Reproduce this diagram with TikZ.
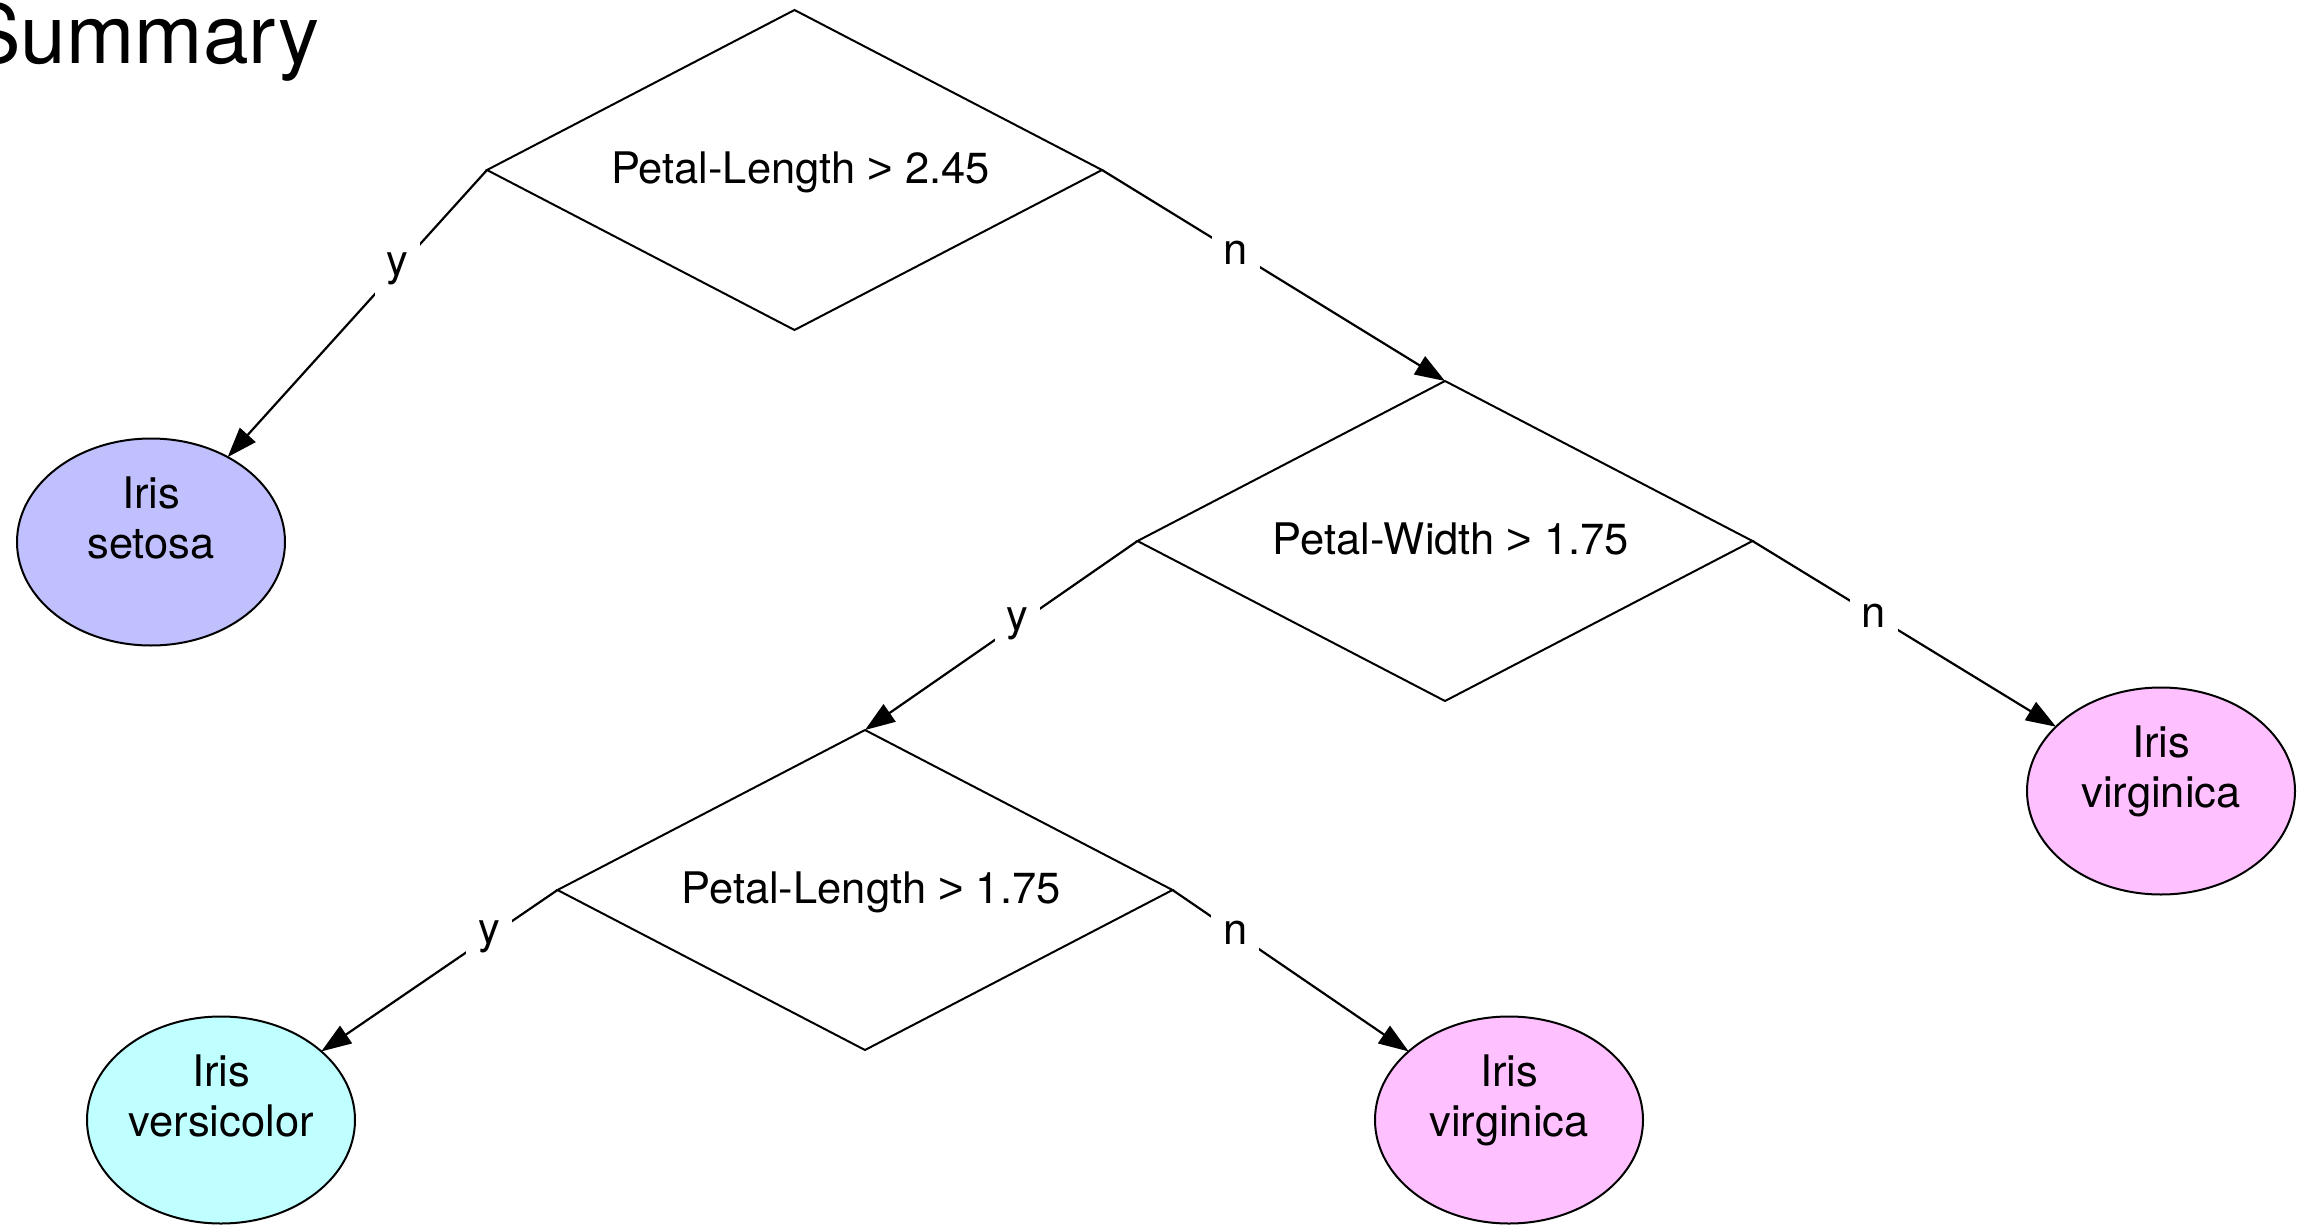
\documentclass[tikz,border=0pt]{standalone}
\usepackage{fontspec}
\setmainfont{TeX Gyre Heros}
\newfontfamily\gtfont{Liberation Sans}
\usetikzlibrary{shapes.geometric,arrows.meta}
\definecolor{setosaC}{HTML}{C0C0FF}
\definecolor{versiC}{HTML}{C0FFFF}
\definecolor{virgiC}{HTML}{FFC0FF}
\begin{document}
\begin{tikzpicture}[x=1pt,y=-1pt,
  cond/.style={shape=diamond, draw, line width=2pt, aspect=1.92, minimum width=615pt, minimum height=320pt, inner sep=0pt, outer sep=0pt, text depth=4pt, font=\fontsize{43.5}{52}\selectfont},
  leaf/.style={shape=ellipse, draw, line width=2pt, minimum width=268pt, minimum height=207pt, inner sep=0pt, outer sep=0pt},
  leaftext/.style={align=center, font=\fontsize{43.5}{50}\selectfont, inner sep=0pt},
  conn/.style={line width=2.2pt, -{Triangle[length=30pt,width=21pt]}},
  lbl/.style={fill=white, inner sep=12pt, font=\fontsize{43.5}{52}\selectfont}]
\useasboundingbox (0,0) rectangle (2311,1225);
\node[anchor=base west, inner sep=0pt, font=\fontsize{82}{98}\selectfont] (title) at (-34,64) {Summary};

\node[cond] (d1) at (794.5,170) {\hspace*{12pt}Petal-Length {\gtfont >} 2.45};
\node[cond] (d2) at (1445,541) {\hspace*{12pt}Petal-Width {\gtfont >} 1.75};
\node[cond] (d3) at (865,890) {\hspace*{12pt}Petal-Length {\gtfont >} 1.75};

\node[leaf, fill=setosaC] (setosa) at (151,542) {};
\node[leaf, fill=versiC] (versi) at (221,1120) {};
\node[leaf, fill=virgiC] (virg1) at (2161,791) {};
\node[leaf, fill=virgiC] (virg2) at (1509,1120) {};

\node[leaftext] (setosaT) at ([yshift=19pt]setosa.center) {Iris\strut\\setosa\strut};
\node[leaftext] (versiT) at ([yshift=19pt]versi.center) {Iris\strut\\versicolor\strut};
\node[leaftext] (virg1T) at ([yshift=19pt]virg1.center) {Iris\strut\\virginica\strut};
\node[leaftext] (virg2T) at ([yshift=19pt]virg2.center) {Iris\strut\\virginica\strut};

\draw[conn] (d1.west) -- node[lbl, pos=0.345] (l1) {y} (setosa);
\draw[conn] (d1.east) -- node[lbl, pos=0.39] (l2) {n} (d2.north);
\draw[conn] (d2.west) -- node[lbl, pos=0.44] (l3) {y} (d3.north);
\draw[conn] (d2.east) -- node[lbl, pos=0.40] (l4) {n} (virg1);
\draw[conn] (d3.west) -- node[lbl, pos=0.29] (l5) {y} (versi);
\draw[conn] (d3.east) -- node[lbl, pos=0.265] (l6) {n} (virg2);
\end{tikzpicture}
\end{document}
